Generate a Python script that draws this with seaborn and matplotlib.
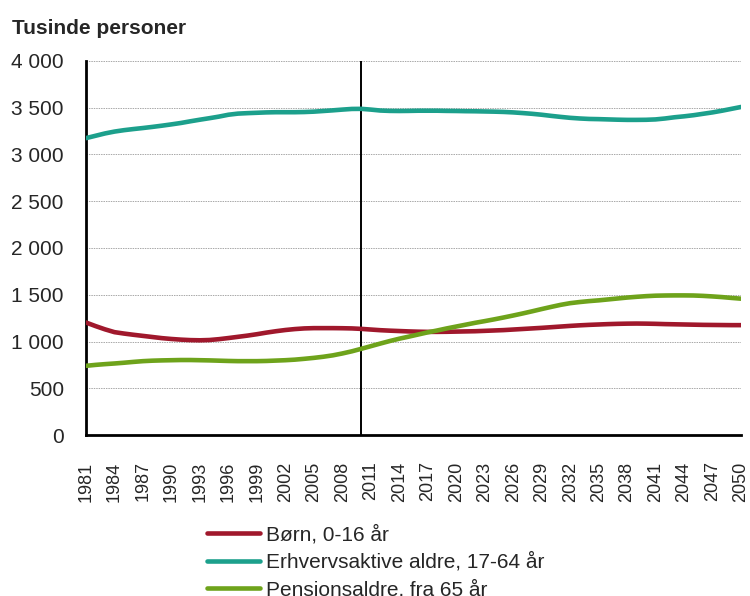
import numpy as np
import pandas as pd
import matplotlib
matplotlib.use("Agg")
import matplotlib.pyplot as plt
import seaborn as sns

years = list(range(1981, 2051))

# Børn, 0-16 år (tusinde personer)
born = [1203, 1165, 1130, 1100, 1085, 1072, 1060, 1048, 1036, 1027,
        1020, 1015, 1013, 1016, 1025, 1037, 1050, 1063, 1078, 1095,
        1110, 1123, 1133, 1140, 1143, 1143, 1143, 1142, 1140, 1135,
        1128, 1121, 1116, 1112, 1108, 1105, 1103, 1103, 1104, 1106,
        1108, 1110, 1114, 1118, 1122, 1128, 1134, 1140, 1146, 1153,
        1160, 1167, 1173, 1178, 1182, 1186, 1189, 1191, 1192, 1191,
        1189, 1186, 1184, 1182, 1180, 1178, 1177, 1176, 1175, 1175]

# Erhvervsaktive aldre, 17-64 år
erhverv = [3175, 3200, 3225, 3245, 3260, 3272, 3283, 3295, 3308, 3322,
           3337, 3355, 3372, 3388, 3405, 3425, 3437, 3442, 3446, 3450,
           3452, 3452, 3452, 3454, 3458, 3465, 3472, 3480, 3487, 3488,
           3480, 3470, 3466, 3465, 3466, 3468, 3468, 3468, 3466, 3465,
           3463, 3462, 3460, 3458, 3455, 3450, 3443, 3435, 3425, 3413,
           3402, 3392, 3385, 3380, 3378, 3375, 3372, 3370, 3370, 3371,
           3375, 3385, 3398, 3408, 3420, 3435, 3450, 3468, 3488, 3508]

# Pensionsaldre, fra 65 år
pension = [740, 750, 758, 765, 773, 782, 790, 795, 798, 800,
           802, 802, 800, 798, 795, 792, 790, 790, 790, 792,
           796, 800, 806, 815, 825, 837, 852, 872, 895, 922,
           950, 978, 1005, 1030, 1052, 1075, 1098, 1118, 1140, 1160,
           1180, 1200, 1218, 1237, 1257, 1278, 1300, 1323, 1347, 1370,
           1392, 1410, 1422, 1432, 1440, 1450, 1460, 1470, 1478, 1485,
           1490, 1492, 1493, 1493, 1492, 1488, 1482, 1475, 1466, 1458]

series_names = ["Børn, 0-16 år", "Erhvervsaktive aldre, 17-64 år", "Pensionsaldre, fra 65 år"]
colors = ["#A0182C", "#1CA08C", "#6EA31B"]
split_year = 2010

df = pd.DataFrame({"year": years,
                   series_names[0]: born,
                   series_names[1]: erhverv,
                   series_names[2]: pension})
long_df = df.melt(id_vars="year", var_name="gruppe", value_name="antal")

sns.set_style("white")
plt.rcParams["font.family"] = ["Liberation Sans", "DejaVu Sans"]

fig = plt.figure(figsize=(7.5, 5.96), dpi=100)
ax = fig.add_axes([0.1147, 0.2701, 0.8733, 0.6276])

# grid first, so it sits under the lines
for v in range(500, 4001, 500):
    ax.axhline(v, color="#a8a8a8", lw=0.7, ls=(0, (1.5, 1)), zorder=0)

sns.lineplot(data=long_df, x="year", y="antal", hue="gruppe",
             palette=colors, linewidth=3.3, ax=ax, zorder=3)
ax.axvline(split_year, color="black", lw=1.4, zorder=2)

ax.set_xlim(1981, 2050)
ax.set_ylim(0, 4000)
ax.set_xticks(years[::3])
ax.set_xticklabels([str(y) for y in years[::3]], rotation=90, fontsize=13)
ax.set_yticks(range(0, 4001, 500))
ax.set_yticklabels([f"{v:,}".replace(",", " ") for v in range(0, 4001, 500)], fontsize=15)
ax.set_xlabel("")
ax.set_ylabel("")

for s in ["top", "right"]:
    ax.spines[s].set_visible(False)
for s in ["left", "bottom"]:
    ax.spines[s].set_color("black")
    ax.spines[s].set_linewidth(2)
ax.tick_params(axis="both", direction="out", length=5, width=1.5, color="black")
ax.tick_params(axis="y", pad=11)
ax.tick_params(axis="x", pad=14)

fig.text(0.016, 0.953, "Tusinde personer", fontsize=15, fontweight="bold", va="center")

handles, labels = ax.get_legend_handles_labels()
ax.legend(handles, labels, loc="upper left", bbox_to_anchor=(0.1725, -0.218),
          frameon=False, fontsize=15, handlelength=2.55, handletextpad=0.25,
          labelspacing=0.38, borderaxespad=0)

fig.savefig("out.png", dpi=100)
